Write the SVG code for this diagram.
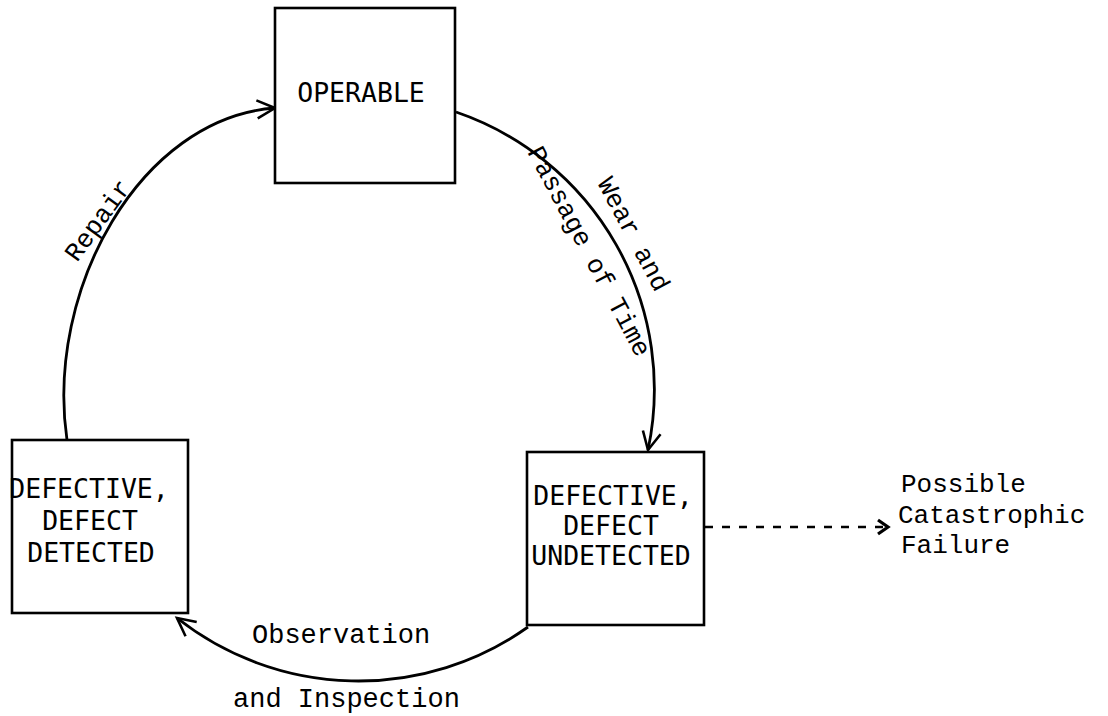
<svg xmlns="http://www.w3.org/2000/svg" width="1108" height="716" viewBox="0 0 1108 716">
<style>
.box{fill:#fff;stroke:#000;stroke-width:2.6}
.bt{font-family:"DejaVu Sans Mono","Liberation Mono",monospace;font-size:26.5px;fill:#000;text-anchor:middle}
.lt{font-family:"Liberation Mono","DejaVu Sans Mono",monospace;font-size:26px;fill:#000}
.arc{fill:none;stroke:#000;stroke-width:2.8}
.dash{fill:none;stroke:#000;stroke-width:2.4;stroke-dasharray:8 9}
</style>
<defs>
<marker id="ah" markerUnits="userSpaceOnUse" markerWidth="40" markerHeight="40" viewBox="-20 -20 40 40" refX="0" refY="0" orient="auto" overflow="visible">
<path d="M-18,-9 L0,0 L-18,9" fill="none" stroke="#000" stroke-width="2.6"/>
</marker>
<marker id="ahs" markerUnits="userSpaceOnUse" markerWidth="30" markerHeight="30" viewBox="-15 -15 30 30" refX="0" refY="0" orient="auto" overflow="visible">
<path d="M-10,-7 L0,0 L-10,7" fill="none" stroke="#000" stroke-width="3.2"/>
</marker>
</defs>
<rect width="1108" height="716" fill="#fff"/>
<g id="connectors">
<path id="repair" class="arc" d="M67,440 C45,290 140,118 275,108" marker-end="url(#ah)"/>
<path id="wear" class="arc" d="M456,112 A293,293 0 0 1 648,450" marker-end="url(#ah)"/>
<path id="observation" class="arc" d="M528,627 A293,293 0 0 1 177,618" marker-end="url(#ah)"/>
<path id="failure" class="dash" d="M705,527 L888,527" marker-end="url(#ahs)"/>
</g>
<g id="operable">
<rect class="box" x="275" y="8" width="180" height="175"/>
<text class="bt" x="361" y="102">OPERABLE</text>
</g>
<g id="undetected">
<rect class="box" x="527" y="452" width="177" height="173"/>
<text class="bt" x="613" y="505">DEFECTIVE,</text>
<text class="bt" x="611" y="535">DEFECT</text>
<text class="bt" x="611" y="565">UNDETECTED</text>
</g>
<g id="detected">
<rect class="box" x="12" y="440" width="176" height="173"/>
<text class="bt" x="89" y="498">DEFECTIVE,</text>
<text class="bt" x="90" y="530">DEFECT</text>
<text class="bt" x="91" y="562">DETECTED</text>
</g>
<g id="labels">
<text class="lt" transform="translate(77,263) rotate(-54)">Repair</text>
<text class="lt" transform="translate(597,183) rotate(62)">Wear and</text>
<text class="lt" transform="translate(527,152) rotate(62)">Passage of Time</text>
<text class="lt" x="252" y="643" style="font-size:27px">Observation</text>
<text class="lt" x="233" y="707" style="font-size:27px">and Inspection</text>
<text class="lt" x="901" y="492">Possible</text>
<text class="lt" x="898" y="523">Catastrophic</text>
<text class="lt" x="901" y="553">Failure</text>
</g>
</svg>
